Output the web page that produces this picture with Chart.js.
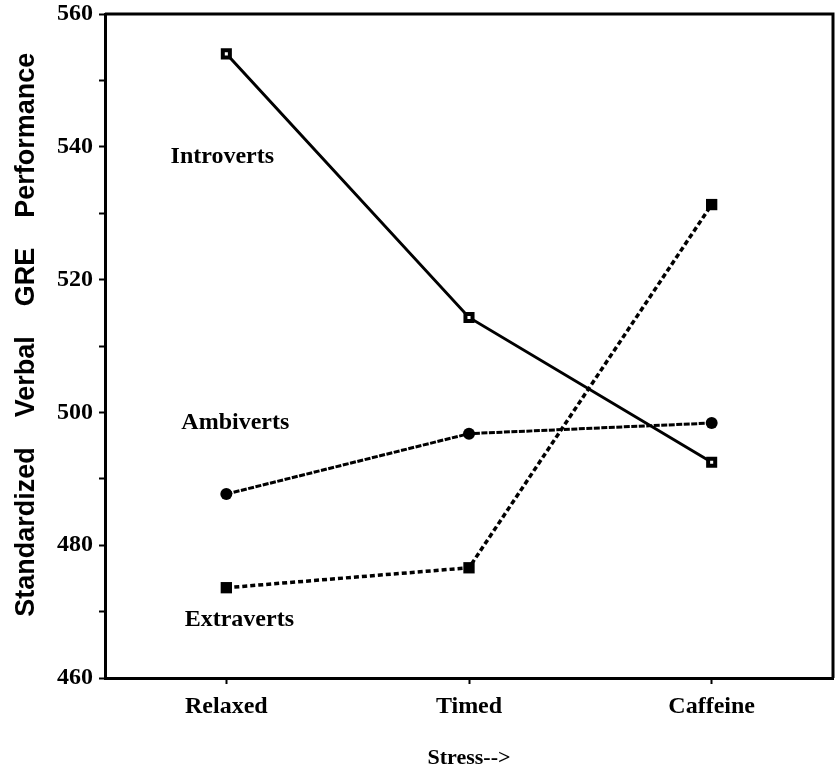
<!DOCTYPE html>
<html>
<head>
<meta charset="utf-8">
<script src="https://cdn.jsdelivr.net/npm/chart.js@4/dist/chart.umd.min.js"></script>
<style>
  body { margin: 0; background: #fff; }
  #wrap { width: 835px; height: 769px; }
</style>
</head>
<body>
<div id="wrap"><canvas id="chart" width="835" height="769"></canvas></div>
<script>
const categories = ["Relaxed", "Timed", "Caffeine"];

const introverts = [554, 514.3, 492.5];
const ambiverts = [487.7, 496.8, 498.4];
const extraverts = [473.6, 476.6, 531.3];

const yTicks = [460, 480, 500, 520, 540, 560];

// series name, anchor category, anchor value, pixel nudge
const seriesLabels = [
  { text: "Introverts", cat: 0, value: 538.5, dx: -4 },
  { text: "Ambiverts", cat: 0, value: 498.4, dx: 9 },
  { text: "Extraverts", cat: 0, value: 468.8, dx: 13 }
];

const serif = "'Liberation Serif', 'Times New Roman', serif";
const sans = "'Liberation Sans', Arial, sans-serif";

/* frame + series labels */
const extras = {
  id: "extras",
  afterDraw(chart) {
    const c = chart.ctx;
    const a = chart.chartArea;
    c.save();
    c.strokeStyle = "#000";
    c.lineWidth = 3;
    c.beginPath();
    c.moveTo(a.left, a.top);
    c.lineTo(a.right, a.top);
    c.lineTo(a.right, a.bottom);
    c.stroke();

    c.fillStyle = "#000";
    c.font = "bold 24px " + serif;
    c.textAlign = "center";
    c.textBaseline = "middle";
    seriesLabels.forEach(l => {
      const x = chart.scales.x.getPixelForValue(l.cat) + l.dx;
      const y = chart.scales.y.getPixelForValue(l.value);
      c.fillText(l.text, x, y);
    });
    c.restore();
  }
};

const ctx = document.getElementById("chart").getContext("2d");

new Chart(ctx, {
  type: "line",
  data: {
    labels: categories,
    datasets: [
      {
        label: "Introverts",
        data: introverts,
        borderColor: "#000",
        borderWidth: 3,
        pointStyle: "rect",
        pointRadius: 5,
        pointBorderWidth: 4,
        pointBorderColor: "#000",
        pointBackgroundColor: "#fff"
      },
      {
        label: "Ambiverts",
        data: ambiverts,
        borderColor: "#000",
        borderWidth: 3,
        borderDash: [6, 1.5],
        pointStyle: "circle",
        pointRadius: 6,
        pointBorderWidth: 0,
        pointBackgroundColor: "#000"
      },
      {
        label: "Extraverts",
        data: extraverts,
        borderColor: "#000",
        borderWidth: 3.5,
        borderDash: [5, 3],
        pointStyle: "rect",
        pointRadius: 8,
        pointBorderWidth: 0,
        pointBackgroundColor: "#000"
      }
    ]
  },
  options: {
    responsive: false,
    animation: false,
    layout: { autoPadding: false, padding: { top: 14, right: 2, left: 0, bottom: 0 } },
    plugins: {
      legend: { display: false },
      tooltip: { enabled: false }
    },
    scales: {
      x: {
        type: "category",
        offset: true,
        border: { color: "#000", width: 3 },
        grid: {
          drawOnChartArea: false,
          drawTicks: true,
          tickLength: 6,
          tickWidth: 2,
          tickColor: "#000"
        },
        ticks: {
          color: "#000",
          font: { family: serif, size: 24, weight: "bold" },
          padding: 8,
          maxRotation: 0
        },
        title: {
          display: true,
          text: "Stress-->",
          color: "#000",
          font: { family: serif, size: 22, weight: "bold" },
          padding: { top: 0, bottom: -3 }
        },
        afterFit: s => { s.height = 91; s.paddingLeft = 0; s.paddingRight = 0; }
      },
      y: {
        min: 460,
        max: 560,
        border: { color: "#000", width: 3 },
        grid: {
          drawOnChartArea: false,
          drawTicks: true,
          tickLength: 6,
          tickWidth: 2,
          tickColor: "#000"
        },
        ticks: {
          stepSize: 10,
          color: "#000",
          font: { family: serif, size: 24, weight: "bold" },
          padding: 6,
          callback: v => yTicks.includes(v) ? v : ""
        },
        title: {
          display: true,
          text: "   Standardized    Verbal    GRE    Performance",
          color: "#000",
          font: { family: sans, size: 27, weight: "bold" },
          padding: { top: 10, bottom: 0 }
        },
        afterFit: s => { s.width = 105; s.paddingTop = 0; s.paddingBottom = 0; }
      }
    }
  },
  plugins: [extras]
});
</script>
</body>
</html>
